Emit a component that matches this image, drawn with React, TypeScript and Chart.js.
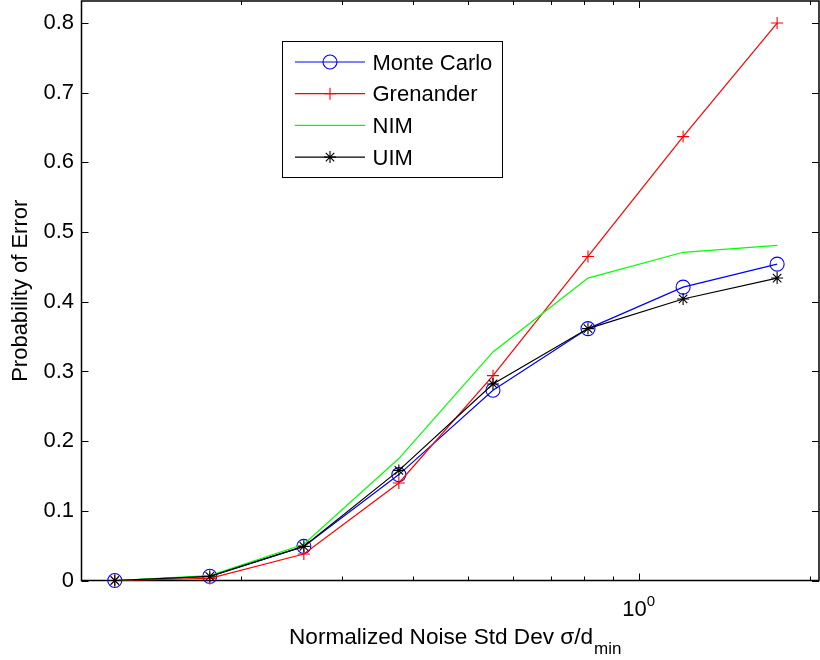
import React, { useEffect, useRef } from 'react';
import { Chart, registerables } from 'chart.js';

Chart.register(...registerables);

// ---- data ----
const xValues = [0.1197, 0.1759, 0.2575, 0.3784, 0.5541, 0.8142, 1.197, 1.752];
const monteCarlo = [0, 0.006, 0.049, 0.152, 0.273, 0.3615, 0.421, 0.454];
const grenander = [0, 0.003, 0.038, 0.14, 0.294, 0.465, 0.637, 0.8];
const nim = [0, 0.007, 0.052, 0.175, 0.328, 0.434, 0.471, 0.481];
const uim = [0, 0.006, 0.049, 0.158, 0.282, 0.3615, 0.404, 0.434];
const seriesNames = ['Monte Carlo', 'Grenander', 'NIM', 'UIM'];
const yTickValues = [0, 0.1, 0.2, 0.3, 0.4, 0.5, 0.6, 0.7, 0.8];
const xTickValues = [0.2, 0.3, 0.4, 0.5, 0.6, 0.7, 0.8, 0.9, 1, 2];
const xMajorTickValues = [1];
const xRange = [0.1046, 2.076];
const yRange = [0, 0.8316];
const xTitleMain = 'Normalized Noise Std Dev σ/d';
const xTitleSub = 'min';
const yTitle = 'Probability of Error';

const FONT = '"Liberation Sans", Arial, Helvetica, sans-serif';

function drawMarker(ctx: CanvasRenderingContext2D, style: string, x: number, y: number, r: number, color: string) {
  ctx.save();
  ctx.strokeStyle = color;
  ctx.lineWidth = 1.1;
  ctx.beginPath();
  if (style === 'circle') {
    ctx.arc(x, y, r, 0, Math.PI * 2);
  } else if (style === 'cross') {
    ctx.moveTo(x - r, y); ctx.lineTo(x + r, y);
    ctx.moveTo(x, y - r); ctx.lineTo(x, y + r);
  } else if (style === 'star') {
    ctx.moveTo(x - r, y); ctx.lineTo(x + r, y);
    ctx.moveTo(x, y - r); ctx.lineTo(x, y + r);
    const d = r * Math.SQRT1_2;
    ctx.moveTo(x - d, y - d); ctx.lineTo(x + d, y + d);
    ctx.moveTo(x - d, y + d); ctx.lineTo(x + d, y - d);
  }
  ctx.stroke();
  ctx.restore();
}

const zeroPad = (scale: any) => {
  scale.paddingTop = 0;
  scale.paddingBottom = 0;
  scale.paddingLeft = 0;
  scale.paddingRight = 0;
};

const matlabPlugin = {
  id: 'matlabAxes',
  beforeDatasetsDraw(chart: any) {
    const { ctx, chartArea } = chart;
    const { left, right, top, bottom } = chartArea;
    const xs = chart.scales.x;
    const ys = chart.scales.y;
    ctx.save();
    ctx.strokeStyle = '#000';
    ctx.lineWidth = 1.5;
    ctx.strokeRect(left, top, right - left, bottom - top);
    ctx.lineWidth = 1;
    ctx.beginPath();
    ys.ticks.forEach((t: any) => {
      const py = Math.round(ys.getPixelForValue(t.value)) + 0.5;
      ctx.moveTo(left, py); ctx.lineTo(left + 7, py);
      ctx.moveTo(right, py); ctx.lineTo(right - 7, py);
    });
    xs.ticks.forEach((t: any) => {
      const px = Math.round(xs.getPixelForValue(t.value)) + 0.5;
      const len = xMajorTickValues.includes(t.value) ? 7 : 4;
      ctx.moveTo(px, bottom); ctx.lineTo(px, bottom - len);
      ctx.moveTo(px, top); ctx.lineTo(px, top + len);
    });
    ctx.stroke();
    ctx.restore();
  },
  afterDraw(chart: any) {
    const { ctx, chartArea } = chart;
    const { left, right, top } = chartArea;
    const xs = chart.scales.x;
    ctx.save();
    ctx.fillStyle = '#000';
    xMajorTickValues.forEach((v) => {
      const px = xs.getPixelForValue(v);
      const exp = String(Math.round(Math.log10(v)));
      ctx.font = `22px ${FONT}`;
      const wBase = ctx.measureText('10').width;
      ctx.font = `15px ${FONT}`;
      const wExp = ctx.measureText(exp).width;
      const start = px - (wBase + wExp) / 2;
      ctx.textBaseline = 'alphabetic';
      ctx.textAlign = 'left';
      ctx.font = `22px ${FONT}`;
      ctx.fillText('10', start, 616);
      ctx.font = `15px ${FONT}`;
      ctx.fillText(exp, start + wBase, 606);
    });
    ctx.font = `22.6px ${FONT}`;
    const wMain = ctx.measureText(xTitleMain).width;
    ctx.font = `17px ${FONT}`;
    const wSub = ctx.measureText(xTitleSub).width;
    const cx = (left + right) / 2 + 5;
    const sx = cx - (wMain + wSub + 1) / 2;
    ctx.textAlign = 'left';
    ctx.font = `22.6px ${FONT}`;
    ctx.fillText(xTitleMain, sx, 644);
    ctx.font = `17px ${FONT}`;
    ctx.fillText(xTitleSub, sx + wMain + 1, 654);

    // legend
    const bx = left + 200.5;
    const by = top + 40;
    const bw = 220;
    const bh = 136;
    ctx.fillStyle = '#fff';
    ctx.fillRect(bx, by, bw, bh);
    ctx.strokeStyle = '#000';
    ctx.lineWidth = 1;
    ctx.strokeRect(bx + 0.5, by + 0.5, bw, bh);
    chart.data.datasets.forEach((ds: any, i: number) => {
      const ry = by + 21 + i * 31.7;
      ctx.strokeStyle = ds.borderColor;
      ctx.lineWidth = ds.borderWidth;
      ctx.beginPath();
      ctx.moveTo(bx + 13, ry);
      ctx.lineTo(bx + 83, ry);
      ctx.stroke();
      if (ds.pointRadius > 0) drawMarker(ctx, ds.pointStyle, bx + 48, ry, ds.pointRadius, ds.borderColor);
      ctx.fillStyle = '#000';
      ctx.font = `22px ${FONT}`;
      ctx.textAlign = 'left';
      ctx.textBaseline = 'alphabetic';
      ctx.fillText(ds.label, bx + 90.5, ry + 7.5);
    });
    ctx.restore();
  },
};

export default function App() {
  const canvasRef = useRef<HTMLCanvasElement | null>(null);

  useEffect(() => {
    const canvas = canvasRef.current;
    if (!canvas) return;
    const mk = (vals: number[]) => xValues.map((x, i) => ({ x, y: vals[i] }));
    const chart = new Chart(canvas, {
      type: 'line',
      data: {
        datasets: [
          {
            label: seriesNames[0], data: mk(monteCarlo), borderColor: '#0000ff', backgroundColor: 'rgba(0,0,0,0)',
            borderWidth: 1.2, pointStyle: 'circle', pointRadius: 7, pointBorderWidth: 1.1,
            pointBackgroundColor: 'rgba(0,0,0,0)', tension: 0, clip: false, order: 3,
          },
          {
            label: seriesNames[1], data: mk(grenander), borderColor: '#ff0000', backgroundColor: 'rgba(0,0,0,0)',
            borderWidth: 1.2, pointStyle: 'cross', pointRadius: 6, pointBorderWidth: 1.1, tension: 0, clip: false, order: 2,
          },
          {
            label: seriesNames[2], data: mk(nim), borderColor: '#00ff00', backgroundColor: 'rgba(0,0,0,0)',
            borderWidth: 1.2, pointStyle: 'circle', pointRadius: 0, tension: 0, clip: false, order: 1,
          },
          {
            label: seriesNames[3], data: mk(uim), borderColor: '#000000', backgroundColor: 'rgba(0,0,0,0)',
            borderWidth: 1.2, pointStyle: 'star', pointRadius: 6, pointBorderWidth: 1.1, tension: 0, clip: false, order: 0,
          },
        ],
      } as any,
      options: {
        responsive: false,
        animation: false,
        devicePixelRatio: 1,
        layout: { padding: { top: 1, right: 1, left: 0, bottom: 0 }, autoPadding: false },
        plugins: { legend: { display: false }, tooltip: { enabled: false } },
        scales: {
          x: {
            type: 'logarithmic',
            min: xRange[0],
            max: xRange[1],
            grid: { display: false },
            border: { display: false },
            ticks: { display: false },
            afterBuildTicks: (scale: any) => { scale.ticks = xTickValues.map((v) => ({ value: v })); },
            afterFit: (scale: any) => { scale.height = 79.5; zeroPad(scale); },
          },
          y: {
            type: 'linear',
            min: yRange[0],
            max: yRange[1],
            grid: { display: false, drawTicks: false },
            border: { display: false },
            afterBuildTicks: (scale: any) => { scale.ticks = yTickValues.map((v) => ({ value: v })); },
            afterFit: (scale: any) => { scale.width = 81.5; zeroPad(scale); },
            ticks: {
              padding: 7.5,
              color: '#000',
              font: { family: FONT, size: 22 },
              callback: (v: any) => (Number(v) === 0 ? '0' : Number(v).toFixed(1)),
            },
            title: {
              display: true,
              text: yTitle,
              color: '#000',
              font: { family: FONT, size: 22 },
              padding: { top: 7.6, bottom: 0 },
            },
          },
        },
      } as any,
      plugins: [matlabPlugin],
    });
    return () => chart.destroy();
  }, []);

  return (
    <div style={{ position: 'fixed', left: 0, top: 0, width: 820, height: 660, background: '#fff' }}>
      <canvas ref={canvasRef} width={820} height={660} style={{ width: 820, height: 660, display: 'block' }} />
    </div>
  );
}
